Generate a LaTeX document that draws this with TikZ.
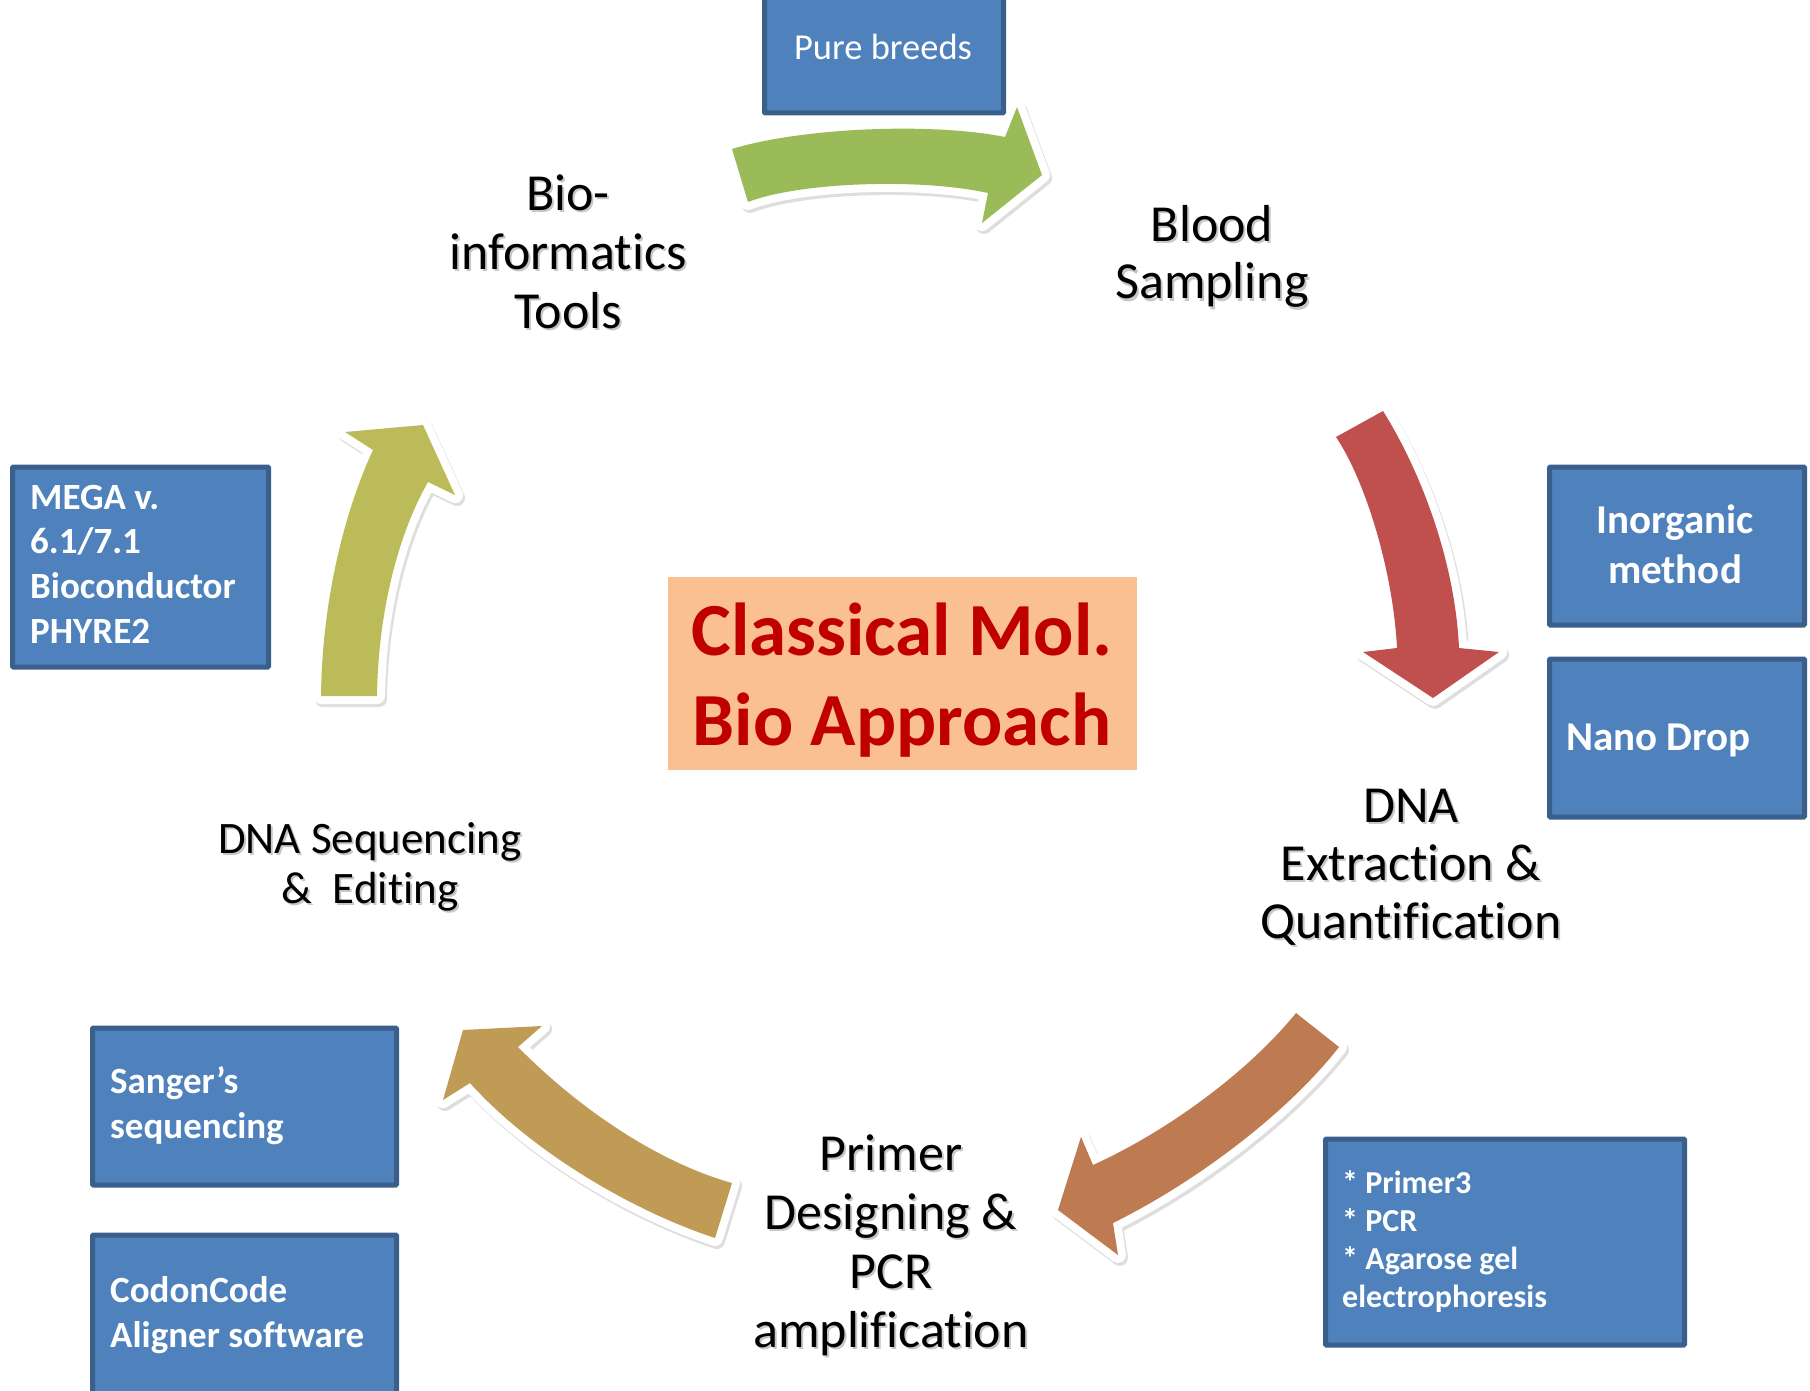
\documentclass[tikz,border=0pt]{standalone}
\usepackage{fontspec}
\setmainfont{Carlito}[Ligatures=NoCommon]
\definecolor{boxblue}{HTML}{4F81BD}
\definecolor{boxedge}{HTML}{3A5F8B}
\definecolor{agreen}{HTML}{9BBB59}
\definecolor{ared}{HTML}{C0504D}
\definecolor{abrown}{HTML}{BE7A50}
\definecolor{agold}{HTML}{BF9B55}
\definecolor{aolive}{HTML}{BCBB5A}
\definecolor{peach}{HTML}{FAC090}
\definecolor{darkred}{HTML}{C00000}
\newcommand\shd[1]{\leavevmode\rlap{\kern2pt\raisebox{-2pt}{\textcolor{black!22}{#1}}}#1}
\begin{document}
\begin{tikzpicture}[x=1pt,y=-1pt,
  bluebox/.style={draw=boxedge, line width=5pt, fill=boxblue, rounded corners=1pt, inner sep=0pt, anchor=north west},
  boxtext/.style={text=white, inner sep=0pt, font=\bfseries},
  steplabel/.style={text=black, inner sep=0pt, anchor=base},
  bigarrow/.style={fill=#1, line join=round,
    preaction={draw=black!13, fill=black!13, line width=16pt, line join=round, transform canvas={shift={(2pt,-3pt)}}},
    preaction={draw=white, line width=16pt, line join=round}}
]
\useasboundingbox (0,0) rectangle (1810,1391);
\clip (0,0) rectangle (1810,1391);

% arrows
\path[bigarrow=agreen] (732,149) .. controls (800,128) and (930,122) .. (1005,137) -- (1017,107) -- (1042,175) -- (982,223) -- (988,193) .. controls (920,178) and (800,182) .. (748,202) -- cycle;
\path[bigarrow=ared] (1336,437) -- (1383,411) .. controls (1420,470) and (1455,560) .. (1459,648) -- (1499,652) -- (1433,698) -- (1363,652) -- (1397,648) .. controls (1393,570) and (1365,480) .. (1336,437) -- cycle;
\path[bigarrow=abrown] (1296,1013) -- (1339,1047) .. controls (1290,1110) and (1200,1180) .. (1113,1223) -- (1118,1255) -- (1058,1210) -- (1081,1137) -- (1093,1165) .. controls (1170,1130) and (1250,1070) .. (1296,1013) -- cycle;
\path[bigarrow=agold] (732,1183) -- (715,1238) .. controls (630,1210) and (530,1150) .. (470,1083) -- (443,1100) -- (463,1030) -- (542,1026) -- (518,1047) .. controls (570,1100) and (650,1160) .. (732,1183) -- cycle;
\path[bigarrow=aolive] (321,696) -- (377,696) .. controls (378,620) and (395,540) .. (428,482) -- (455,495) -- (423,425) -- (345,432) -- (373,450) .. controls (345,510) and (322,600) .. (321,696) -- cycle;

% blue boxes
\node[bluebox, minimum width=239pt, minimum height=118pt] (pure) at (762,-7.5) {};
\node[bluebox, minimum width=255pt, minimum height=158pt] (inorg) at (1547,464.5) {};
\node[bluebox, minimum width=255pt, minimum height=158pt] (nano) at (1547,656.5) {};
\node[bluebox, minimum width=359pt, minimum height=206pt] (pcrbox) at (1323,1136.5) {};
\node[bluebox, minimum width=256pt, minimum height=200pt] (mega) at (10,464.5) {};
\node[bluebox, minimum width=304pt, minimum height=157pt] (sanger) at (90,1025.5) {};
\node[bluebox, minimum width=304pt, minimum height=170pt] (codon) at (90,1232.5) {};

% center box
\node[fill=peach, minimum width=469pt, minimum height=193pt, inner sep=0pt, anchor=north west] (center) at (668,577) {};
\node[text=darkred, inner sep=0pt, anchor=base] (centert) at (902,655) {\fontsize{75}{90}\selectfont\bfseries\begin{tabular}[t]{@{}c@{}}Classical Mol.\\Bio Approach\end{tabular}};

% box texts
\node[text=white, inner sep=0pt, anchor=base] (puret) at (883,60) {\fontsize{36.5}{44}\selectfont Pure breeds};
\node[boxtext, anchor=base] (inorgt) at (1675,533) {\fontsize{41}{50}\selectfont\bfseries\begin{tabular}[t]{@{}c@{}}Inorganic\\method\end{tabular}};
\node[boxtext, anchor=base west] (nanot) at (1566,750) {\fontsize{41}{50}\selectfont\bfseries Nano Drop};
\node[boxtext, anchor=base west] (pcrt) at (1342,1193) {\fontsize{32}{38.3}\selectfont\bfseries\begin{tabular}[t]{@{}l@{}}{*} Primer3\\{*} PCR\\{*} Agarose gel\\electrophoresis\end{tabular}};
\node[boxtext, anchor=base west] (megat) at (30,509) {\fontsize{37}{44.7}\selectfont\bfseries\begin{tabular}[t]{@{}l@{}}MEGA v.\\6.1/7.1\\Bioconductor\\PHYRE2\end{tabular}};
\node[boxtext, anchor=base west] (sangert) at (110,1093) {\fontsize{37}{45}\selectfont\bfseries\begin{tabular}[t]{@{}l@{}}Sanger’s\\sequencing\end{tabular}};
\node[boxtext, anchor=base west] (codont) at (110,1302) {\fontsize{37}{45}\selectfont\bfseries\begin{tabular}[t]{@{}l@{}}CodonCode\\Aligner software\end{tabular}};

% step labels
\node[steplabel] (bio) at (568,211) {\fontsize{52}{59}\selectfont\begin{tabular}[t]{@{}c@{}}\shd{Bio-}\\\shd{informatics}\\\shd{Tools}\end{tabular}};
\node[steplabel] (blood) at (1212,241) {\fontsize{52}{58}\selectfont\begin{tabular}[t]{@{}c@{}}\shd{Blood}\\\shd{Sampling}\end{tabular}};
\node[steplabel] (dna) at (1411,822) {\fontsize{52}{58}\selectfont\begin{tabular}[t]{@{}c@{}}\shd{DNA}\\\shd{Extraction \&}\\\shd{Quantification}\end{tabular}};
\node[steplabel] (primer) at (891,1170) {\fontsize{52}{59}\selectfont\begin{tabular}[t]{@{}c@{}}\shd{Primer}\\\shd{Designing \&}\\\shd{PCR}\\\shd{amplification}\end{tabular}};
\node[steplabel] (seq) at (370,853) {\fontsize{45}{50}\selectfont\begin{tabular}[t]{@{}c@{}}\shd{DNA Sequencing}\\\shd{\&\ \ Editing}\end{tabular}};
\end{tikzpicture}
\end{document}
